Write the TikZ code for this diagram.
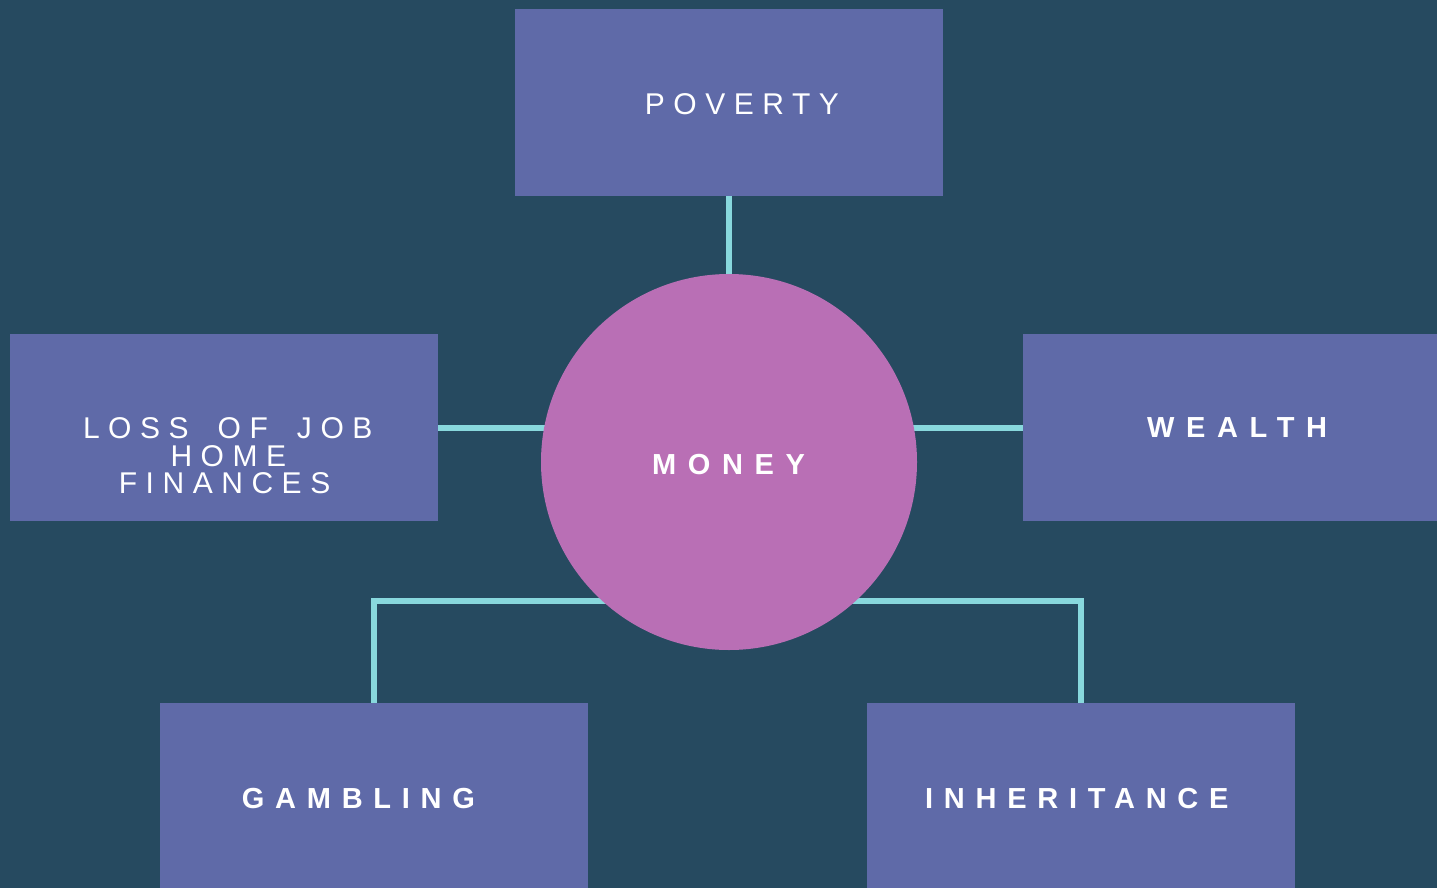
\documentclass[tikz,border=0pt]{standalone}
\usepackage{fontspec}
\setmainfont{Liberation Sans}
\newfontfamily\regtrack[LetterSpace=28.5, WordSpace=1.72]{Liberation Sans}
\newfontfamily\boldtrack[LetterSpace=40]{Liberation Sans Bold}
\newfontfamily\boldtrackb[LetterSpace=37]{Liberation Sans Bold}
\definecolor{bgcol}{HTML}{264A60}
\definecolor{boxcol}{HTML}{5F6AA8}
\definecolor{circcol}{HTML}{B96FB5}
\definecolor{linecol}{HTML}{88D8DD}
\pgfdeclarelayer{bglayer}
\pgfdeclarelayer{linelayer}
\pgfsetlayers{bglayer,linelayer,main}
\tikzset{
  box/.style={fill=boxcol, draw=none, minimum width=428pt, minimum height=187pt, inner sep=0pt},
  hub/.style={circle, fill=circcol, draw=none, minimum size=376pt, inner sep=0pt},
  conn/.style={draw=linecol, line width=6pt},
  lbl/.style={text=white, inner sep=0pt, anchor=base west, font=\regtrack\fontsize{30}{30}\selectfont},
  blbl/.style={text=white, inner sep=0pt, anchor=base west, font=\boldtrack\fontsize{29}{29}\selectfont},
  blblb/.style={text=white, inner sep=0pt, anchor=base west, font=\boldtrackb\fontsize{29}{29}\selectfont}
}
\begin{document}
\begin{tikzpicture}[x=1pt, y=-1pt]
\useasboundingbox (0,0) rectangle (1437,888);
\clip (0,0) rectangle (1437,888);
\begin{pgfonlayer}{bglayer}
  \fill[bgcol] (0,0) rectangle (1437,888);
\end{pgfonlayer}
% boxes
\node[box] (pov) at (729,102.5) {};
\node[box] (loss) at (224,427.5) {};
\node[box] (wea) at (1237,427.5) {};
\node[box] (gam) at (373.5,796.5) {};
\node[box] (inh) at (1080.5,796.5) {};
\node[hub] (hub) at (729,462) {};
% connectors
\coordinate (gamj) at (729,601);
\begin{pgfonlayer}{linelayer}
  \draw[conn] (pov.south) -- (hub.center);
  \draw[conn] (loss.east) -- (loss.east -| hub.center);
  \draw[conn] (wea.west) -- (wea.west -| hub.center);
  \draw[conn] (gam.north) |- (gamj);
  \draw[conn] (inh.north) |- (gamj);
\end{pgfonlayer}
% labels
\node[lbl] (tpov) at (644.7,115) {POVERTY};
\node[lbl] (tloss1) at (82.8,438) {LOSS OF JOB};
\node[lbl] (tloss2) at (170.3,466) {HOME};
\node[lbl] (tloss3) at (118.6,493) {FINANCES};
\node[blbl] (thub) at (652,474) {MONEY};
\node[blbl] (twea) at (1147,437) {WEALTH};
\node[blblb] (tgam) at (241.7,808) {GAMBLING};
\node[blblb] (tinh) at (925,808) {INHERITANCE};
\end{tikzpicture}
\end{document}
